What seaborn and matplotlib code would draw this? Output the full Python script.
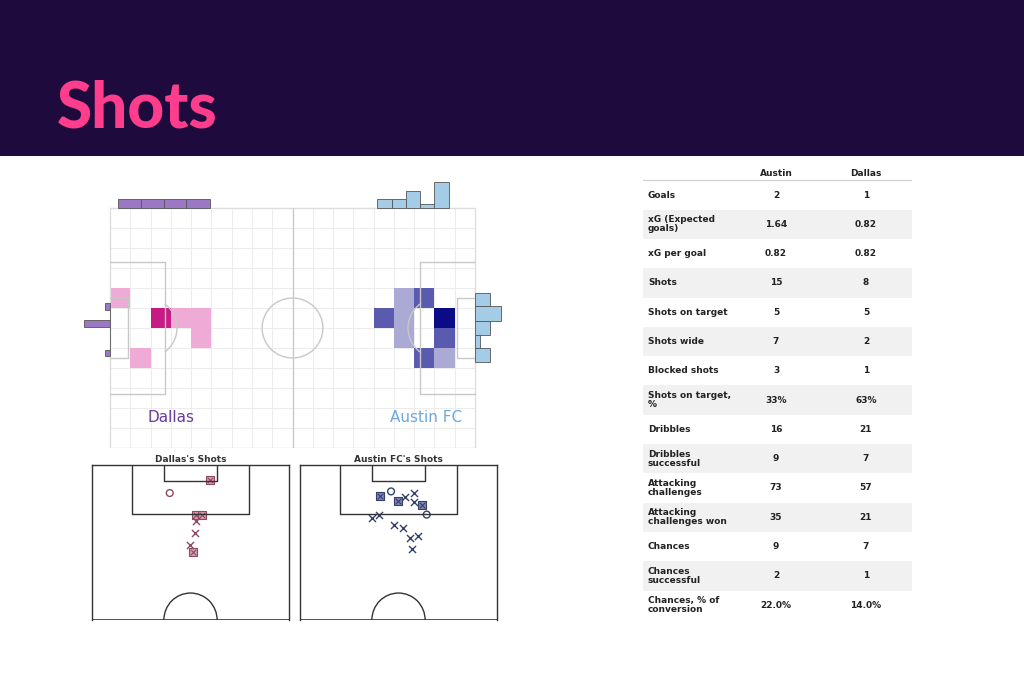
import matplotlib.pyplot as plt
import matplotlib.patches as patches
from matplotlib.colors import ListedColormap, BoundaryNorm
import seaborn as sns
import pandas as pd
import numpy as np

sns.set_theme(style="white")
plt.rcParams['font.family'] = ['DejaVu Sans']

BG_DARK = "#1e0a3c"
PINK = "#ff3d8d"
DALLAS_C = "#6a3d9a"
AUSTIN_C = "#6fa8dc"

# ---- data ----
# heatmap cells on the 18x12 grid: column, row, shot count
dallas_cols = [0, 2, 3, 4, 4, 1]
dallas_rows = [4, 5, 5, 5, 6, 7]
dallas_counts = [1, 2, 1, 1, 1, 1]
austin_cols = [14, 15, 13, 14, 16, 14, 16, 15, 16]
austin_rows = [4, 4, 5, 5, 5, 6, 6, 7, 7]
austin_counts = [1, 2, 2, 1, 3, 1, 2, 2, 1]

# marginal histograms (pitch units)
dallas_top_edges = [2.7, 10.2, 17.6, 25.1, 32.8]
dallas_top_counts = [2, 2, 2, 2]
austin_top_edges = [87.9, 92.6, 97.2, 102.1, 106.5, 111.5]
austin_top_counts = [2, 2, 4, 1, 6]
dallas_side_edges = [31.7, 33.9, 37.4, 39.7, 47.2, 49.2]
dallas_side_counts = [1, 0, 5, 0, 1]
austin_side_edges = [28.3, 32.8, 37.8, 42.2, 46.7, 51.4]
austin_side_counts = [3, 5, 3, 1, 3]

# shot maps (x across pitch width, y distance from goal line)
dallas_shot_x = [47.5, 32.2, 41.9, 44.5, 41.9, 41.6, 39.7, 41.0]
dallas_shot_y = [5.4, 10.4, 18.6, 18.5, 20.9, 25.3, 29.6, 32.3]
dallas_shot_type = ["goal", "saved", "goal", "goal", "missed", "missed", "missed", "goal"]
austin_shot_x = [33.1, 37.2, 39.7, 42.5, 45.7, 45.8, 48.8, 50.6, 30.1, 32.5, 38.2, 41.7, 44.4, 47.3, 45.0]
austin_shot_y = [11.6, 9.8, 13.2, 11.7, 10.3, 13.6, 14.8, 18.4, 19.5, 18.5, 22.3, 23.4, 27.2, 26.4, 31.0]
austin_shot_type = ["goal", "saved", "goal", "missed", "missed", "missed", "goal", "saved",
                    "missed", "missed", "missed", "missed", "missed", "missed", "missed"]

# stats table
stat_labels = ["Goals", "xG (Expected\ngoals)", "xG per goal", "Shots", "Shots on target",
               "Shots wide", "Blocked shots", "Shots on target,\n%", "Dribbles",
               "Dribbles\nsuccessful", "Attacking\nchallenges", "Attacking\nchallenges won",
               "Chances", "Chances\nsuccessful", "Chances, % of\nconversion"]
austin_vals = ["2", "1.64", "0.82", "15", "5", "7", "3", "33%", "16", "9", "73", "35", "9", "2", "22.0%"]
dallas_vals = ["1", "0.82", "0.82", "8", "5", "2", "1", "63%", "21", "7", "57", "21", "7", "1", "14.0%"]

W, H = 1024, 683
fig = plt.figure(figsize=(W / 100, H / 100), dpi=100)
fig.patch.set_facecolor("white")


def px_axes(x0, y0, x1, y1):
    return fig.add_axes([x0 / W, 1 - y1 / H, (x1 - x0) / W, (y1 - y0) / H])


# ---- header ----
hdr = px_axes(0, 0, W, 156)
hdr.set_facecolor(BG_DARK)
hdr.set_xticks([]); hdr.set_yticks([])
for s in hdr.spines.values():
    s.set_visible(False)
fig.text(57 / W, 1 - 128 / H, "Shots", color=PINK, fontsize=46, fontweight="black",
         family=["Lato", "DejaVu Sans"])

# ---- full pitch heatmap ----
ax = px_axes(80, 175, 505, 448)
ax.set_xlim(-9.9, 129.9)
ax.set_ylim(80, -11)
ax.axis("off")
lc = "#c8c8c8"
for gx in np.linspace(0, 120, 19):
    ax.plot([gx, gx], [0, 80], color="#ececec", lw=0.7, zorder=0)
for gy in np.linspace(0, 80, 13):
    ax.plot([0, 120], [gy, gy], color="#ececec", lw=0.7, zorder=0)


def heat(cols, rows, counts, colors):
    grid = np.zeros((12, 18))
    for c, r, n in zip(cols, rows, counts):
        grid[r, c] = n
    grid = np.ma.masked_equal(grid, 0)
    cmap = ListedColormap(colors)
    norm = BoundaryNorm([0.5, 1.5, 2.5, 3.5], cmap.N)
    ax.pcolormesh(np.linspace(0, 120, 19), np.linspace(0, 80, 13), grid,
                  cmap=cmap, norm=norm, zorder=1)


heat(dallas_cols, dallas_rows, dallas_counts, ["#efabd6", "#c71a84", "#c71a84"])
heat(austin_cols, austin_rows, austin_counts, ["#aaaad4", "#5a5aae", "#0b0b88"])

ax.plot([0, 120, 120, 0, 0], [0, 0, 80, 80, 0], color="#dddddd", lw=1, zorder=2)
ax.plot([60, 60], [0, 80], color=lc, lw=1, zorder=2)
ax.add_patch(patches.Circle((60, 40), 10, fill=False, ec=lc, lw=1, zorder=2))
for x0, sgn in [(0, 1), (120, -1)]:
    ax.plot([x0, x0 + sgn * 18, x0 + sgn * 18, x0], [18, 18, 62, 62], color=lc, lw=1, zorder=2)
    ax.plot([x0, x0 + sgn * 6, x0 + sgn * 6, x0], [30, 30, 50, 50], color=lc, lw=1, zorder=2)
    th1, th2 = (-53, 53) if sgn == 1 else (127, 233)
    ax.add_patch(patches.Arc((x0 + sgn * 12, 40), 20, 20, theta1=th1, theta2=th2, ec=lc, lw=1, zorder=2))

scale = 1.45
for edges, counts, col in [(dallas_top_edges, dallas_top_counts, "#9b77c4"),
                           (austin_top_edges, austin_top_counts, "#a5cce6")]:
    e = np.array(edges)
    ax.bar(e[:-1], -np.array(counts) * scale, width=np.diff(e), align="edge",
           color=col, edgecolor="#555555", lw=0.6, zorder=3)
side = 1.7
e = np.array(dallas_side_edges)
ax.barh(e[:-1], -np.array(dallas_side_counts) * side, height=np.diff(e), align="edge",
        color="#9b77c4", edgecolor="#555555", lw=0.6, zorder=3)
e = np.array(austin_side_edges)
ax.barh(e[:-1], np.array(austin_side_counts) * side, left=120, height=np.diff(e), align="edge",
        color="#a5cce6", edgecolor="#555555", lw=0.6, zorder=3)

ax.text(20, 70, "Dallas", color=DALLAS_C, fontsize=11, ha="center", va="center")
ax.text(104, 70, "Austin FC", color=AUSTIN_C, fontsize=11, ha="center", va="center")

# ---- shot maps ----
def shot_map(box, title, xs, ys, types, color, face):
    a = px_axes(*box)
    a.set_xlim(3, 77)
    a.set_ylim(57.5, 0)
    a.set_xticks([]); a.set_yticks([])
    for s in a.spines.values():
        s.set_color("#333333"); s.set_linewidth(1)
    a.spines["bottom"].set_visible(False)
    a.plot([3, 77], [57.5, 57.5], color="#333333", lw=1.2)
    a.plot([18, 18, 62, 62], [0, 18, 18, 0], color="#333333", lw=1)
    a.plot([30, 30, 50, 50], [0, 6, 6, 0], color="#333333", lw=1)
    a.add_patch(patches.Arc((40, 57.5), 20, 20, theta1=180, theta2=360, ec="#333333", lw=1))
    df = pd.DataFrame({"x": xs, "y": ys, "t": types})
    g = df[df.t == "goal"]
    sns.scatterplot(data=g, x="x", y="y", marker="s", s=32, color=face, edgecolor=color, lw=0.8, ax=a)
    sns.scatterplot(data=g, x="x", y="y", marker="x", s=16, color=color, lw=0.8, ax=a)
    sv = df[df.t == "saved"]
    sns.scatterplot(data=sv, x="x", y="y", marker="o", s=24, facecolor="none", edgecolor=color, lw=1, ax=a)
    ms = df[df.t == "missed"]
    sns.scatterplot(data=ms, x="x", y="y", marker="x", s=26, color=color, lw=1, ax=a)
    a.set_xlabel(None); a.set_ylabel(None)
    a.set_title(title, fontsize=6.5, fontweight="bold", color="#333333", pad=2)


shot_map((92, 465, 289, 620), "Dallas's Shots", dallas_shot_x, dallas_shot_y, dallas_shot_type,
         "#8e4a63", "#d9a0b0")
shot_map((300, 465, 497, 620), "Austin FC's Shots", austin_shot_x, austin_shot_y, austin_shot_type,
         "#36406e", "#7c86b0")

# ---- stats table ----
t = px_axes(643, 165, 912, 622)
t.set_xlim(0, 269)
t.set_ylim(457, 0)
t.axis("off")
t.text(133, 8, "Austin", fontsize=6.5, fontweight="bold", ha="center", va="center", color="#222222")
t.text(223, 8, "Dallas", fontsize=6.5, fontweight="bold", ha="center", va="center", color="#222222")
t.plot([0, 269], [15, 15], color="#cccccc", lw=0.8)
row_h = 29.3
for i, (lab, av, dv) in enumerate(zip(stat_labels, austin_vals, dallas_vals)):
    yc = 30 + row_h * i
    if i % 2 == 1:
        t.add_patch(patches.Rectangle((0, yc - row_h / 2), 269, row_h, color="#f1f1f1", lw=0, zorder=0))
    t.text(5, yc, lab, fontsize=6.5, fontweight="bold", va="center", color="#222222", linespacing=1.0)
    t.text(133, yc, av, fontsize=6.5, fontweight="bold", ha="center", va="center", color="#222222")
    t.text(223, yc, dv, fontsize=6.5, fontweight="bold", ha="center", va="center", color="#222222")

fig.savefig("out.png", dpi=100)
